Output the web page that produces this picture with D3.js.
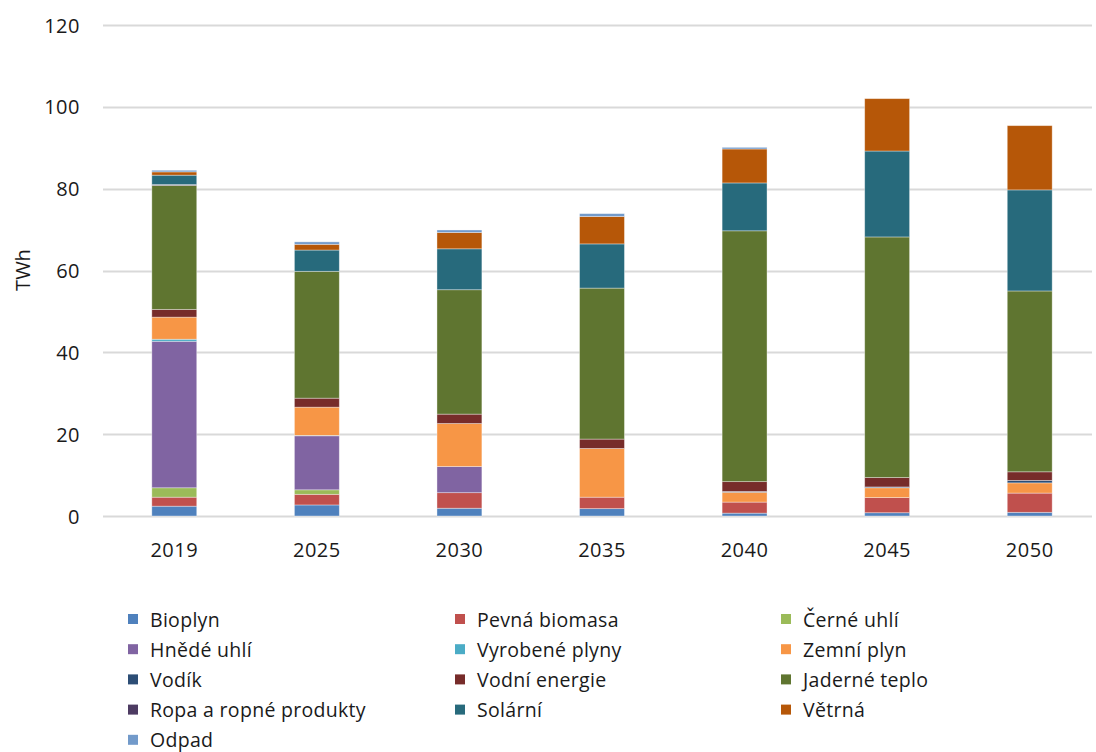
<!DOCTYPE html>
<html>
<head>
<meta charset="utf-8">
<script src="https://cdn.jsdelivr.net/npm/d3@7"></script>
<style>
  body { margin: 0; background: #fff; }
  svg text { font-family: "Open Sans", "Liberation Sans", sans-serif; fill: #1a1a1a; }
</style>
</head>
<body>
<svg id="chart" width="1096" height="752"></svg>
<script>
// categories
const years = ['2019', '2025', '2030', '2035', '2040', '2045', '2050'];

// series, bottom to top (TWh)
const bioplyn = [2.4, 2.7, 1.9, 1.8, 0.7, 0.8, 0.9];
const pevnaBiomasa = [2.2, 2.6, 3.8, 2.8, 2.7, 3.7, 4.7];
const cerneUhli = [2.3, 1.1, 0, 0, 0, 0, 0];
const hnedeUhli = [35.8, 13.2, 6.4, 0, 0, 0, 0];
const vyrobenePlyny = [0.5, 0.1, 0, 0, 0, 0, 0];
const zemniPlyn = [5.4, 6.9, 10.5, 11.9, 2.4, 2.4, 2.5];
const vodik = [0, 0, 0, 0, 0.2, 0.2, 0.6];
const vodniEnergie = [1.9, 2.2, 2.3, 2.3, 2.4, 2.3, 2.1];
const jaderneTeplo = [30.3, 31.0, 30.4, 36.9, 61.3, 58.8, 44.2];
const ropa = [0.2, 0, 0, 0, 0, 0, 0];
const solarni = [2.3, 5.2, 10.0, 10.8, 11.7, 21.0, 24.7];
const vetrna = [0.8, 1.4, 4.0, 6.7, 8.3, 12.8, 15.7];
const odpad = [0.4, 0.6, 0.6, 0.7, 0.4, 0, 0];

const yTicks = [0, 20, 40, 60, 80, 100, 120];

const series = [
  { name: 'Bioplyn', values: bioplyn, color: '#4F81BD' },
  { name: 'Pevná biomasa', values: pevnaBiomasa, color: '#C0504D' },
  { name: 'Černé uhlí', values: cerneUhli, color: '#9BBB59' },
  { name: 'Hnědé uhlí', values: hnedeUhli, color: '#8064A2' },
  { name: 'Vyrobené plyny', values: vyrobenePlyny, color: '#4BACC6' },
  { name: 'Zemní plyn', values: zemniPlyn, color: '#F79646' },
  { name: 'Vodík', values: vodik, color: '#2C4D75' },
  { name: 'Vodní energie', values: vodniEnergie, color: '#772C2A' },
  { name: 'Jaderné teplo', values: jaderneTeplo, color: '#5F7530' },
  { name: 'Ropa a ropné produkty', values: ropa, color: '#4D3B62' },
  { name: 'Solární', values: solarni, color: '#276A7C' },
  { name: 'Větrná', values: vetrna, color: '#B65708' },
  { name: 'Odpad', values: odpad, color: '#729ACA' },
];

const svg = d3.select('#chart');

const x = d3.scaleBand()
  .domain(years)
  .range([103, 1101])
  .paddingInner(0.685)
  .paddingOuter(0.3425);

const y = d3.scaleLinear()
  .domain([0, 120])
  .range([516, 25]);

// gridlines
svg.append('g')
  .selectAll('line')
  .data(yTicks)
  .enter()
  .append('line')
  .attr('x1', 103)
  .attr('x2', 1092)
  .attr('y1', (d) => Math.round(y(d)) + 0.5)
  .attr('y2', (d) => Math.round(y(d)) + 0.5)
  .attr('stroke', '#d9d9d9')
  .attr('stroke-width', 2);

// y tick labels
svg.append('g')
  .selectAll('text')
  .data(yTicks)
  .enter()
  .append('text')
  .attr('x', 80)
  .attr('y', (d) => y(d))
  .attr('dominant-baseline', 'central')
  .attr('text-anchor', 'end')
  .style('font-size', '20px')
  .style('letter-spacing', '0.5px')
  .text((d) => d);

svg.append('text')
  .attr('transform', 'translate(22,270) rotate(-90)')
  .attr('text-anchor', 'middle')
  .attr('dominant-baseline', 'central')
  .style('font-size', '20px')
  .text('TWh');

// stacked bars
const table = years.map((yr, i) => {
  const row = { year: yr };
  series.forEach((s) => { row[s.name] = s.values[i]; });
  return row;
});

const stacked = d3.stack().keys(series.map((s) => s.name))(table);

svg.append('g')
  .selectAll('g')
  .data(stacked)
  .enter()
  .append('g')
  .attr('fill', (d, i) => series[i].color)
  .selectAll('rect')
  .data((d) => d.filter((p) => p[1] - p[0] > 0))
  .enter()
  .append('rect')
  .attr('x', (d) => x(d.data.year))
  .attr('width', x.bandwidth())
  .attr('y', (d) => y(d[1]))
  .attr('height', (d) => y(d[0]) - y(d[1]))
  .attr('stroke', 'rgba(255,255,255,0.45)')
  .attr('stroke-width', 0.8);

// x labels
svg.append('g')
  .selectAll('text')
  .data(years)
  .enter()
  .append('text')
  .attr('x', (d) => x(d) + x.bandwidth() / 2)
  .attr('y', 549)
  .attr('text-anchor', 'middle')
  .attr('dominant-baseline', 'central')
  .style('font-size', '20px')
  .style('letter-spacing', '0.5px')
  .text((d) => d);

// legend
const colX = [128, 455, 781];
const legend = svg.append('g')
  .selectAll('g')
  .data(series)
  .enter()
  .append('g')
  .attr('transform', (d, i) => `translate(${colX[i % 3]},${619 + Math.floor(i / 3) * 30.2})`);

legend.append('rect')
  .attr('x', 0)
  .attr('y', -5)
  .attr('width', 10)
  .attr('height', 10)
  .attr('fill', (d) => d.color);

legend.append('text')
  .attr('x', 22)
  .attr('y', 0)
  .attr('dominant-baseline', 'central')
  .style('font-size', '19.5px')
  .style('letter-spacing', '0.3px')
  .text((d) => d.name);
</script>
</body>
</html>
